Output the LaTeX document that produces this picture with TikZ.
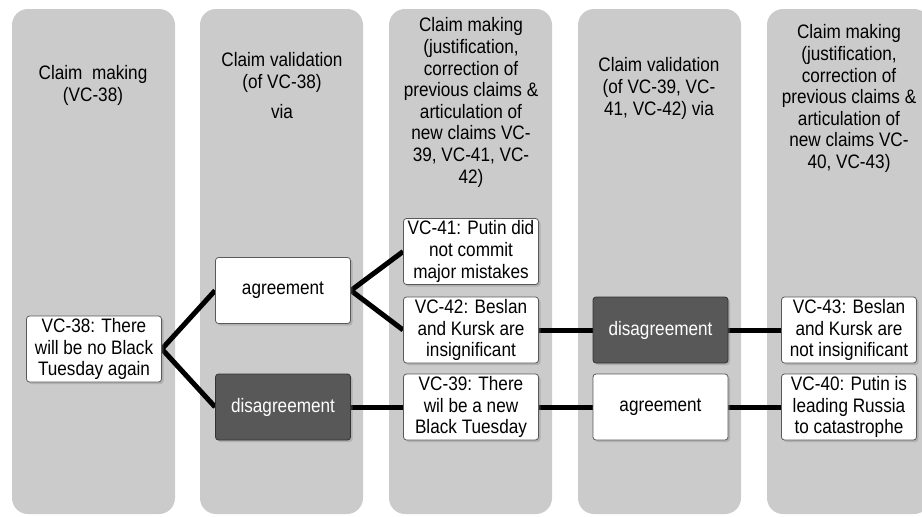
\documentclass[tikz,border=0pt]{standalone}
\usepackage{fontspec}
\setmainfont{Liberation Sans}[FakeStretch=0.88]
\usepackage{tikz}
\usetikzlibrary{backgrounds,shadows,positioning}
\definecolor{lanegray}{RGB}{203,203,203}
\definecolor{neggray}{RGB}{88,88,88}

\tikzset{
  lane/.style={fill=lanegray,rounded corners=16pt},
  lanehead/.style={anchor=north,align=center,inner sep=0pt,font=\fontsize{19.5}{21.6}\selectfont},
  claim/.style={draw=black!65,line width=0.8pt,fill=white,rounded corners=3pt,
    minimum width=135pt,minimum height=66pt,inner sep=0pt,align=center,
    font=\fontsize{19.5}{21.6}\selectfont,
    drop shadow={shadow xshift=2pt,shadow yshift=-2pt,opacity=0.35}},
  negclaim/.style={claim,fill=neggray,draw=black!80,text=white},
  link/.style={line width=5pt}
}

\begin{document}
\begin{tikzpicture}[x=1pt,y=-1pt]
\useasboundingbox (0,0) rectangle (922,517);

% headers
\node[lanehead] (h1) at (93,65.5) {Claim~~making\\(VC-38)};
\node[lanehead] (h2) at (282,52.5) {Claim validation\\(of VC-38)\\[8.5pt]via};
\node[lanehead] (h3) at (471,17.5) {Claim making\\(justification,\\correction of\\previous claims \&\\articulation of\\new claims VC-\\39, VC-41, VC-\\42)};
\node[lanehead] (h4) at (659,57.5) {Claim validation\\(of VC-39, VC-\\41, VC-42) via};
\node[lanehead] (h5) at (849,24.5) {Claim making\\(justification,\\correction of\\previous claims \&\\articulation of\\new claims VC-\\40, VC-43)};

% claims and validations
\node[claim] (c38) at (94,349) {VC-38: There\\will be no Black\\Tuesday again};
\node[claim] (agr1) at (283,290.5) {agreement};
\node[negclaim] (dis1) at (283,407) {disagreement};
\node[claim] (c41) at (471,251.5) {VC-41: Putin did\\not commit\\major mistakes};
\node[claim] (c42) at (471,330) {VC-42: Beslan\\and Kursk are\\insignificant};
\node[claim] (c39) at (471,407) {VC-39: There\\wil be a new\\Black Tuesday};
\node[negclaim] (dis2) at (660.5,330) {disagreement};
\node[claim] (agr2) at (660.5,407) {agreement};
\node[claim] (c43) at (849,330) {VC-43: Beslan\\and Kursk are\\not insignificant};
\node[claim] (c40) at (849,407) {VC-40: Putin is\\leading Russia\\to catastrophe};

\begin{scope}[on background layer]
\foreach \x in {12,200,389,578,767}
  \fill[lane] (\x,9) rectangle ++(163,505);
\draw[link] (agr1.west) -- (c38.east) -- (dis1.west);
\draw[link] (c41.west) -- (agr1.east) -- (c42.west);
\draw[link] (dis1) -- (c39);
\draw[link] (c42) -- (dis2) -- (c43);
\draw[link] (c39) -- (agr2) -- (c40);
\end{scope}
\end{tikzpicture}
\end{document}
